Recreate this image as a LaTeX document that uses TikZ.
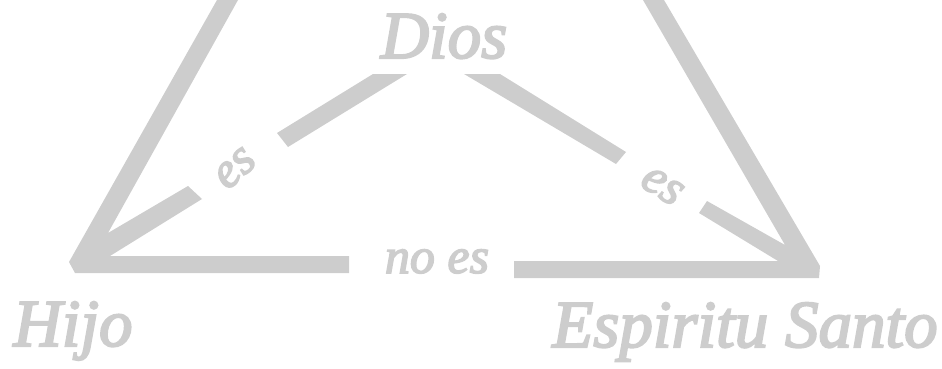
\documentclass[tikz,border=0pt]{standalone}
\usepackage{fontspec}
\setmainfont{Liberation Serif}
\newfontfamily\labfont[ItalicFont={Liberation Serif Italic},ItalicFeatures={FakeBold=3}]{Liberation Serif}
\definecolor{tri}{HTML}{CDCDCD}
\tikzset{
  edge/.style={fill=tri,draw=none},
  lab/.style={text=tri,font=\labfont\itshape\fontsize{#1}{#1}\selectfont,inner sep=0pt,anchor=base},
}
\begin{document}
\begin{tikzpicture}[x=1pt,y=-1pt]
\useasboundingbox (0,0) rectangle (942,369);
\clip (0,0) rectangle (942,369);
% left corner
\path[edge] (217,0) -- (238,0) -- (108,233) -- (188,186) -- (202,199) -- (110,256) -- (349,256) -- (349,273) -- (75,273) -- (69,262) -- cycle;
% right corner
\path[edge] (643,0) -- (664,0) -- (820,266) -- (819,278) -- (514,278) -- (514,261) -- (778,261) -- (699,213) -- (707,201) -- (785,245) -- cycle;
% middle strokes
\path[edge] (277,133) -- (373,74) -- (407,74) -- (288,147) -- cycle;
\path[edge] (464,74) -- (500,74) -- (626,152) -- (616,164) -- cycle;
\node[lab=67] (dios) at (444,58) {Dios};
\node[lab=50,rotate=42] (es1) at (243,177) {es};
\node[lab=50,rotate=-32] (es2) at (656,196) {es};
\node[lab=50] (noes) at (437,273) {no es};
\node[lab=67] (hijo) at (73,346) {Hijo};
\node[lab=67] (santo) at (745,347) {Espiritu Santo};
\end{tikzpicture}
\end{document}
